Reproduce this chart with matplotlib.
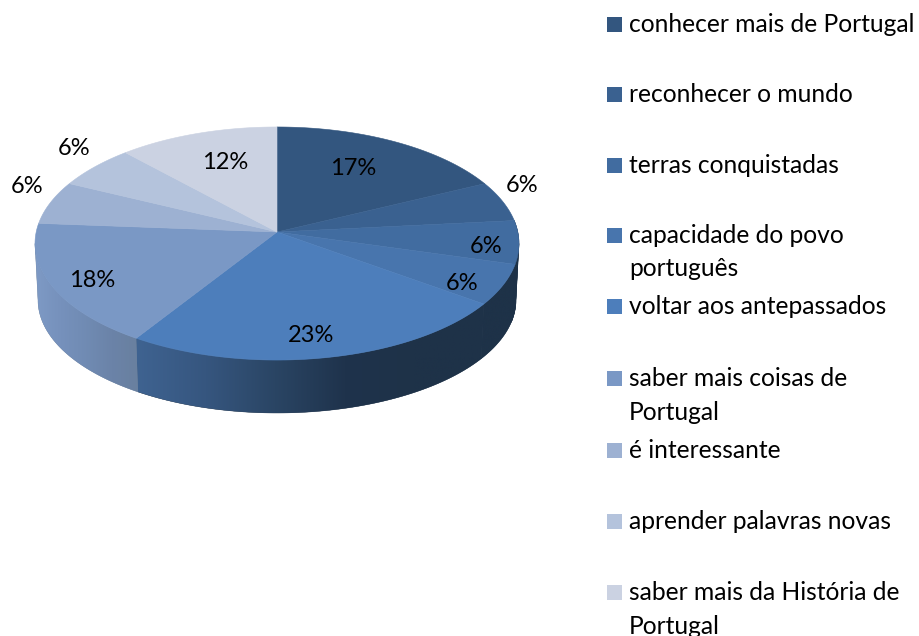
import numpy as np
import matplotlib
matplotlib.use("Agg")
import matplotlib.pyplot as plt
from matplotlib.colors import LinearSegmentedColormap
from matplotlib.patches import Polygon, Rectangle

labels = [
    "conhecer mais de Portugal",
    "reconhecer o mundo",
    "terras conquistadas",
    "capacidade do povo\nportuguês",
    "voltar aos antepassados",
    "saber mais coisas de\nPortugal",
    "é interessante",
    "aprender palavras novas",
    "saber mais da História de\nPortugal",
]
# slice sizes as they look in the drawing, printed labels are below
shares = [17.8, 5.6, 6.0, 5.6, 24.0, 17.2, 6.0, 6.0, 11.8]
pct_text = ["17%", "6%", "6%", "6%", "23%", "18%", "6%", "6%", "12%"]
colors = ["#33567F", "#3A6190", "#416CA0", "#4875AD", "#4D7EBB",
          "#7A98C5", "#9DB1D2", "#B4C3DC", "#CBD2E2"]
wall_colors = [
    None,
    ["#1E3248", "#1E3248"],
    ["#1E3248", "#1E3248"],
    ["#1E3248", "#1E3248"],
    ["#3F6391", "#36567F", "#2A4564", "#1F334C", "#1E3248", "#1E3248"],
    ["#7E9AC5", "#7691BC", "#708BB3", "#6B83A8", "#69809F"],
    None, None, None,
]
pct_x = [353, 522, 486, 462, 311, 92, 27, 74, 225]
pct_y = [175, 192, 253, 290, 342, 287, 193, 155, 169]
legend_y = [24, 94, 165, 235, 306, 378, 450, 521, 592]

plt.rcParams["font.family"] = ["Lato", "DejaVu Sans"]

CX, CY = 277, 232
A, B, K = 240.8, 115.4, 0.0988
BOT_CY, BOT_RX, BOT_RY = 300, 239, 113
THETA_R = np.degrees(np.arccos(-K))
THETA_L = 360 - THETA_R
TOP_RX = A / np.sqrt(1 - K ** 2)


def top_xy(theta):
    t = np.radians(theta)
    w = 1 + K * np.cos(t)
    return CX + A * np.sin(t) / w, CY - B * np.cos(t) / w


def bottom_under(xt):
    # lower rim, taken straight below the upper rim so seams stay upright
    s = np.clip((xt - CX) / TOP_RX, -1, 1)
    return CX + BOT_RX * s, BOT_CY + BOT_RY * np.sqrt(1 - s ** 2)


fig = plt.figure(figsize=(9.19, 6.36), dpi=100)
ax = fig.add_axes([0, 0, 1, 1])

edges = np.cumsum([0] + shares) / sum(shares) * 360

# side wall first
for i, shades in enumerate(wall_colors):
    if shades is None:
        continue
    a0 = max(edges[i], THETA_R)
    a1 = min(edges[i + 1], THETA_L)
    th = np.linspace(a0, a1, 80)
    xt, yt = top_xy(th)
    xb, yb = bottom_under(xt)
    xs = np.r_[xt, xb[::-1]]
    ys = np.r_[yt, yb[::-1]]
    poly = Polygon(np.c_[xs, ys], closed=True, fc=shades[-1], ec=shades[-1], lw=0.3)
    ax.add_patch(poly)
    cmap = LinearSegmentedColormap.from_list("wall%d" % i, shades)
    grad = np.linspace(0, 1, 256).reshape(1, -1)
    im = ax.imshow(grad, cmap=cmap, aspect="auto",
                   extent=(xs.min(), xs.max(), ys.max(), ys.min()), zorder=1.5)
    im.set_clip_path(poly)

# top face
for i, c in enumerate(colors):
    th = np.linspace(edges[i], edges[i + 1], 100)
    x, y = top_xy(th)
    pts = np.c_[np.r_[CX, x], np.r_[CY, y]]
    ax.add_patch(Polygon(pts, closed=True, fc=c, ec=c, lw=0.4, zorder=2))

for x, y, s in zip(pct_x, pct_y, pct_text):
    ax.text(x, y, s, ha="center", va="baseline", fontsize=17, color="black", zorder=3)

# legend
for y, s, c in zip(legend_y, labels, colors):
    ax.add_patch(Rectangle((607, y - 7.5), 15, 15, fc=c, ec="none"))
    for j, line in enumerate(s.split("\n")):
        ax.text(629, y + 8 + j * 33.5, line, ha="left", va="baseline",
                fontsize=17.7, color="black")

ax.set_xlim(0, 919)
ax.set_ylim(636, 0)
ax.axis("off")
fig.savefig("out.png", dpi=100)
